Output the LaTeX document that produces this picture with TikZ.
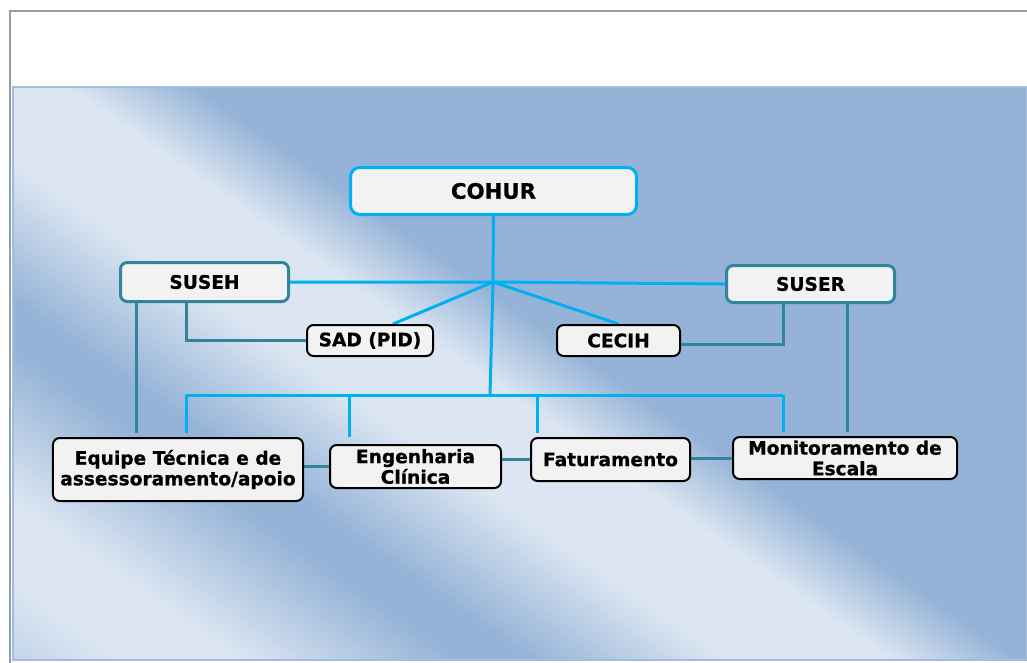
\documentclass[tikz,border=0pt]{standalone}
\usepackage{fontspec}
\setmainfont{DejaVu Sans}[BoldFeatures={FakeBold=0.8}]
\usetikzlibrary{calc}
\pgfdeclarelayer{bg}
\pgfdeclarelayer{lines}
\pgfsetlayers{bg,lines,main}
\definecolor{bgdark}{HTML}{95B3D7}
\definecolor{bglight}{HTML}{DCE6F2}
\definecolor{bgmid}{HTML}{B9CDE5}
\definecolor{cyanline}{HTML}{00B0F0}
\definecolor{tealline}{HTML}{31849B}
\definecolor{boxfill}{HTML}{F2F2F2}
\definecolor{framegray}{HTML}{8EA2A6}
\definecolor{paneledge}{HTML}{A5BDDC}
\pgfdeclarehorizontalshading{bgstripes}{100bp}{color(0bp)=(bgdark); color(47.9bp)=(bgdark); color(51.0bp)=(bglight); color(54.8bp)=(bglight); color(59.6bp)=(bgdark); color(61.2bp)=(bgdark); color(66.5bp)=(bglight); color(69.2bp)=(bglight); color(72.9bp)=(bgmid); color(76bp)=(bgdark); color(100bp)=(bgdark)}
\begin{document}
\begin{tikzpicture}[x=0.75bp,y=-0.75bp,
  boxbase/.style={rounded corners=5pt, fill=boxfill, inner sep=0pt, align=center, text=black,
    font=\bfseries\fontsize{14}{15.5}\selectfont},
  cyanbox/.style={boxbase, draw=cyanline, line width=2.25bp, rounded corners=7pt},
  tealbox/.style={boxbase, draw=tealline, line width=2.25bp},
  blackbox/.style={boxbase, draw=black, line width=1.5bp},
  cyanconn/.style={draw=cyanline, line width=2.25bp},
  tealconn/.style={draw=tealline, line width=2.25bp}]
\useasboundingbox (0,0) rectangle (1027,663);
\begin{pgfonlayer}{bg}
  \fill[white] (0,0) rectangle (1027,663);
  \begin{scope}
    \clip (13,87) rectangle (1027,660);
    \shade[shading=bgstripes, shading angle=235.2] (-80,-226.5) rectangle (1120,973.5);
  \end{scope}
  \draw[paneledge, line width=1bp] (13,87) rectangle (1027,660);
  \draw[framegray, line width=1.1bp] (10,663) -- (10,11) -- (1027,11);
\end{pgfonlayer}

% nodes
\node[cyanbox, minimum width=214.5bp, minimum height=35.25bp, font=\bfseries\fontsize{16}{18}\selectfont] (cohur) at (493.5,191) {COHUR};
\node[tealbox, minimum width=126bp, minimum height=29.25bp] (suseh) at (204.5,282) {SUSEH};
\node[tealbox, minimum width=126bp, minimum height=27.75bp] (suser) at (810.5,284) {SUSER};
\node[blackbox, minimum width=94.5bp, minimum height=23.25bp] (sad) at (370,340.5) {SAD (PID)};
\node[blackbox, minimum width=92.25bp, minimum height=23.25bp] (cecih) at (618.5,340.5) {CECIH};
\node[blackbox, minimum width=187.5bp, minimum height=47.25bp] (equipe) at (178,469.5) {Equipe Técnica e de\\assessoramento/apoio};
\node[blackbox, minimum width=128.25bp, minimum height=32.25bp] (eng) at (415.5,466.5) {Engenharia\\Clínica};
\node[blackbox, minimum width=119.25bp, minimum height=32.25bp] (fat) at (610.5,459.5) {Faturamento};
\node[blackbox, minimum width=168bp, minimum height=31.5bp] (mon) at (845,458) {Monitoramento de\\Escala};

% helper coordinates
\coordinate (hub) at (493,282);
\coordinate (busM) at (490,395);
\coordinate (busL) at (186,395);
\coordinate (busR) at (783,395);
\coordinate (dEng) at (349,395);
\coordinate (dFat) at (537,395);
\coordinate (xa) at (136,0);
\coordinate (xb) at (186,0);
\coordinate (xc) at (783,0);
\coordinate (xd) at (847,0);

\begin{pgfonlayer}{lines}
  % cyan structure
  \draw[cyanconn] (cohur.south) -- (hub) -- (busM);
  \draw[cyanconn] (suseh.east) -- (hub) -- (suser.west);
  \draw[cyanconn] (hub) -- ($(sad.north)+(23,0)$);
  \draw[cyanconn] (hub) -- (cecih.north);
  \draw[cyanconn] (busL) -- (busR);
  \draw[cyanconn, shorten >=3bp] (busL) -- (busL |- equipe.north);
  \draw[cyanconn, shorten >=5bp] (dEng) -- (dEng |- eng.north);
  \draw[cyanconn, shorten >=3bp] (dFat) -- (dFat |- fat.north);
  \draw[cyanconn, shorten >=3bp] (busR) -- (busR |- mon.north);
  % teal structure
  \draw[tealconn, shorten >=3bp] (xa |- suseh.south) -- (xa |- equipe.north);
  \draw[tealconn] (xb |- suseh.south) |- (sad.west);
  \draw[tealconn] (xc |- suser.south) |- ($(cecih.east)+(0,3.5)$);
  \draw[tealconn, shorten >=3bp] (xd |- suser.south) -- (xd |- mon.north);
  \draw[tealconn] (eng.west -| equipe.east) -- (eng.west);
  \draw[tealconn] (fat.west -| eng.east) -- (fat.west);
  \draw[tealconn] (mon.west -| fat.east) -- (mon.west);
\end{pgfonlayer}
\end{tikzpicture}
\end{document}
